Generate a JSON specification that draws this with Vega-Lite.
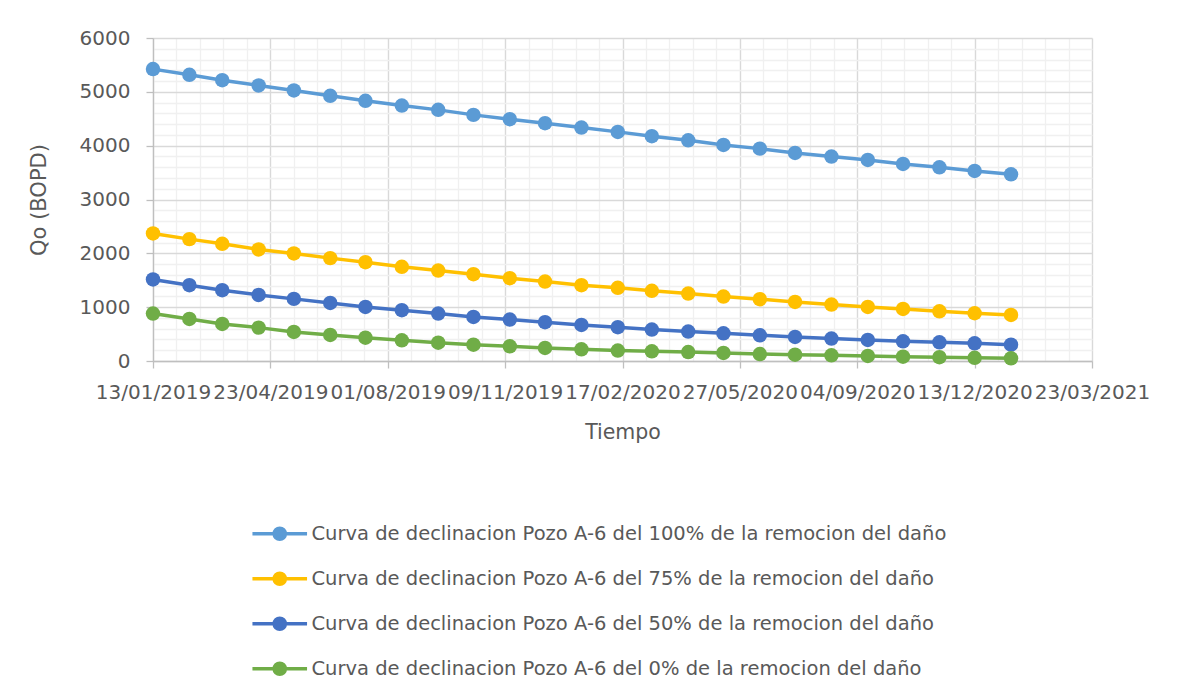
{
  "$schema": "https://vega.github.io/schema/vega-lite/v6.json",
  "width": 939,
  "height": 323,
  "autosize": {"type": "none"},
  "padding": {"left": 153, "top": 38, "right": 86, "bottom": 337},
  "background": "white",
  "config": {
    "view": {"stroke": null},
    "font": "DejaVu Sans",
    "axis": {"labelColor": "#595959", "titleColor": "#595959", "labelFont": "DejaVu Sans", "titleFont": "DejaVu Sans", "titleFontWeight": "normal"},
    "legend": {"labelColor": "#595959", "labelFont": "DejaVu Sans"}
  },
  "data": {
    "format": {"parse": {"d": "utc:'%Y-%m-%d'"}},
    "values": [
      {"d": "2019-01-13", "s": "100%", "q": 5422}, {"d": "2019-02-13", "s": "100%", "q": 5316}, {"d": "2019-03-13", "s": "100%", "q": 5217}, {"d": "2019-04-13", "s": "100%", "q": 5118}, {"d": "2019-05-13", "s": "100%", "q": 5025}, {"d": "2019-06-13", "s": "100%", "q": 4926}, {"d": "2019-07-13", "s": "100%", "q": 4833}, {"d": "2019-08-13", "s": "100%", "q": 4746}, {"d": "2019-09-13", "s": "100%", "q": 4665}, {"d": "2019-10-13", "s": "100%", "q": 4572}, {"d": "2019-11-13", "s": "100%", "q": 4491}, {"d": "2019-12-13", "s": "100%", "q": 4417}, {"d": "2020-01-13", "s": "100%", "q": 4336}, {"d": "2020-02-13", "s": "100%", "q": 4256}, {"d": "2020-03-13", "s": "100%", "q": 4175}, {"d": "2020-04-13", "s": "100%", "q": 4100}, {"d": "2020-05-13", "s": "100%", "q": 4014}, {"d": "2020-06-13", "s": "100%", "q": 3945}, {"d": "2020-07-13", "s": "100%", "q": 3865}, {"d": "2020-08-13", "s": "100%", "q": 3797}, {"d": "2020-09-13", "s": "100%", "q": 3734}, {"d": "2020-10-13", "s": "100%", "q": 3660}, {"d": "2020-11-13", "s": "100%", "q": 3598}, {"d": "2020-12-13", "s": "100%", "q": 3530}, {"d": "2021-01-13", "s": "100%", "q": 3468},
      {"d": "2019-01-13", "s": "75%", "q": 2370}, {"d": "2019-02-13", "s": "75%", "q": 2264}, {"d": "2019-03-13", "s": "75%", "q": 2177}, {"d": "2019-04-13", "s": "75%", "q": 2072}, {"d": "2019-05-13", "s": "75%", "q": 1998}, {"d": "2019-06-13", "s": "75%", "q": 1911}, {"d": "2019-07-13", "s": "75%", "q": 1836}, {"d": "2019-08-13", "s": "75%", "q": 1749}, {"d": "2019-09-13", "s": "75%", "q": 1681}, {"d": "2019-10-13", "s": "75%", "q": 1613}, {"d": "2019-11-13", "s": "75%", "q": 1538}, {"d": "2019-12-13", "s": "75%", "q": 1476}, {"d": "2020-01-13", "s": "75%", "q": 1408}, {"d": "2020-02-13", "s": "75%", "q": 1359}, {"d": "2020-03-13", "s": "75%", "q": 1303}, {"d": "2020-04-13", "s": "75%", "q": 1253}, {"d": "2020-05-13", "s": "75%", "q": 1197}, {"d": "2020-06-13", "s": "75%", "q": 1148}, {"d": "2020-07-13", "s": "75%", "q": 1098}, {"d": "2020-08-13", "s": "75%", "q": 1048}, {"d": "2020-09-13", "s": "75%", "q": 1005}, {"d": "2020-10-13", "s": "75%", "q": 968}, {"d": "2020-11-13", "s": "75%", "q": 924}, {"d": "2020-12-13", "s": "75%", "q": 887}, {"d": "2021-01-13", "s": "75%", "q": 856},
      {"d": "2019-01-13", "s": "50%", "q": 1514}, {"d": "2019-02-13", "s": "50%", "q": 1408}, {"d": "2019-03-13", "s": "50%", "q": 1315}, {"d": "2019-04-13", "s": "50%", "q": 1228}, {"d": "2019-05-13", "s": "50%", "q": 1154}, {"d": "2019-06-13", "s": "50%", "q": 1079}, {"d": "2019-07-13", "s": "50%", "q": 1005}, {"d": "2019-08-13", "s": "50%", "q": 943}, {"d": "2019-09-13", "s": "50%", "q": 881}, {"d": "2019-10-13", "s": "50%", "q": 819}, {"d": "2019-11-13", "s": "50%", "q": 769}, {"d": "2019-12-13", "s": "50%", "q": 720}, {"d": "2020-01-13", "s": "50%", "q": 670}, {"d": "2020-02-13", "s": "50%", "q": 627}, {"d": "2020-03-13", "s": "50%", "q": 583}, {"d": "2020-04-13", "s": "50%", "q": 546}, {"d": "2020-05-13", "s": "50%", "q": 515}, {"d": "2020-06-13", "s": "50%", "q": 478}, {"d": "2020-07-13", "s": "50%", "q": 447}, {"d": "2020-08-13", "s": "50%", "q": 416}, {"d": "2020-09-13", "s": "50%", "q": 391}, {"d": "2020-10-13", "s": "50%", "q": 366}, {"d": "2020-11-13", "s": "50%", "q": 347}, {"d": "2020-12-13", "s": "50%", "q": 329}, {"d": "2021-01-13", "s": "50%", "q": 304},
      {"d": "2019-01-13", "s": "0%", "q": 881}, {"d": "2019-02-13", "s": "0%", "q": 782}, {"d": "2019-03-13", "s": "0%", "q": 689}, {"d": "2019-04-13", "s": "0%", "q": 620}, {"d": "2019-05-13", "s": "0%", "q": 540}, {"d": "2019-06-13", "s": "0%", "q": 484}, {"d": "2019-07-13", "s": "0%", "q": 434}, {"d": "2019-08-13", "s": "0%", "q": 385}, {"d": "2019-09-13", "s": "0%", "q": 341}, {"d": "2019-10-13", "s": "0%", "q": 304}, {"d": "2019-11-13", "s": "0%", "q": 273}, {"d": "2019-12-13", "s": "0%", "q": 242}, {"d": "2020-01-13", "s": "0%", "q": 217}, {"d": "2020-02-13", "s": "0%", "q": 195}, {"d": "2020-03-13", "s": "0%", "q": 180}, {"d": "2020-04-13", "s": "0%", "q": 165}, {"d": "2020-05-13", "s": "0%", "q": 149}, {"d": "2020-06-13", "s": "0%", "q": 130}, {"d": "2020-07-13", "s": "0%", "q": 118}, {"d": "2020-08-13", "s": "0%", "q": 105}, {"d": "2020-09-13", "s": "0%", "q": 93}, {"d": "2020-10-13", "s": "0%", "q": 81}, {"d": "2020-11-13", "s": "0%", "q": 70}, {"d": "2020-12-13", "s": "0%", "q": 60}, {"d": "2021-01-13", "s": "0%", "q": 50}
    ]
  },
  "layer": [
    {
      "mark": {"type": "point", "opacity": 0},
      "encoding": {
        "x": {
          "field": "d", "type": "temporal",
          "scale": {"type": "utc", "domain": [1547337600000, 1616457600000], "nice": false},
          "axis": {
            "orient": "bottom", "title": null, "labels": false, "ticks": false, "domain": false,
            "grid": true, "gridColor": "#F0F0F0", "gridWidth": 1.3,
            "values": [1547337600000, 1549065600000, 1550793600000, 1552521600000, 1554249600000, 1555977600000, 1557705600000, 1559433600000, 1561161600000, 1562889600000, 1564617600000, 1566345600000, 1568073600000, 1569801600000, 1571529600000, 1573257600000, 1574985600000, 1576713600000, 1578441600000, 1580169600000, 1581897600000, 1583625600000, 1585353600000, 1587081600000, 1588809600000, 1590537600000, 1592265600000, 1593993600000, 1595721600000, 1597449600000, 1599177600000, 1600905600000, 1602633600000, 1604361600000, 1606089600000, 1607817600000, 1609545600000, 1611273600000, 1613001600000, 1614729600000, 1616457600000]
          }
        },
        "y": {
          "field": "q", "type": "quantitative",
          "scale": {"domain": [0, 6000], "nice": false},
          "axis": {
            "orient": "left", "title": null, "labels": false, "ticks": false, "domain": false,
            "grid": true, "gridColor": "#F0F0F0", "gridWidth": 1.3,
            "values": [200, 400, 600, 800, 1200, 1400, 1600, 1800, 2200, 2400, 2600, 2800, 3200, 3400, 3600, 3800, 4200, 4400, 4600, 4800, 5200, 5400, 5600, 5800]
          }
        }
      }
    },
    {
      "mark": {"type": "line", "strokeWidth": 3.5, "point": {"filled": true, "size": 210, "opacity": 1}},
      "encoding": {
        "x": {
          "field": "d", "type": "temporal",
          "axis": {
            "orient": "bottom", "title": "Tiempo", "titleFontSize": 20.5, "titlePadding": 20,
            "labelExpr": "utcFormat(datum.value, '%d/%m/%Y')",
            "labelFontSize": 20, "labelOverlap": false, "labelFlush": false, "labelBound": false, "labelPadding": 14,
            "grid": true, "gridColor": "#D9D9D9", "gridWidth": 1.3,
            "domainColor": "#BFBFBF", "domainWidth": 1.3,
            "ticks": true, "tickColor": "#BFBFBF", "tickSize": 7, "tickWidth": 1.3,
            "values": [1547337600000, 1555977600000, 1564617600000, 1573257600000, 1581897600000, 1590537600000, 1599177600000, 1607817600000, 1616457600000]
          }
        },
        "y": {
          "field": "q", "type": "quantitative",
          "axis": {
            "orient": "left", "title": "Qo (BOPD)", "titleFontSize": 21, "titlePadding": 30,
            "format": "d",
            "labelFontSize": 20, "labelPadding": 16,
            "grid": true, "gridColor": "#D9D9D9", "gridWidth": 1.3,
            "domain": true, "domainColor": "#BFBFBF", "domainWidth": 1.3,
            "ticks": true, "tickColor": "#BFBFBF", "tickSize": 7, "tickWidth": 1.3,
            "values": [0, 1000, 2000, 3000, 4000, 5000, 6000]
          }
        },
        "color": {
          "field": "s", "type": "nominal",
          "scale": {"domain": ["100%", "75%", "50%", "0%"], "range": ["#5B9BD5", "#FFC000", "#4472C4", "#70AD47"]},
          "legend": {
            "title": null, "orient": "none", "direction": "vertical",
            "legendX": 117, "legendY": 486,
            "labelExpr": "'Curva de declinacion Pozo A-6 del ' + datum.label + ' de la remocion del daño'",
            "labelFontSize": 19.5, "labelOffset": 22, "labelLimit": 900,
            "rowPadding": 19,
            "symbolType": "M-3.9,0H3.9M0.8,0A0.8,0.8,0,1,1,-0.8,0A0.8,0.8,0,1,1,0.8,0",
            "symbolSize": 196, "symbolStrokeWidth": 3.5,
            "encode": {"symbols": {"update": {"fill": {"scale": "color", "field": "value"}, "stroke": {"scale": "color", "field": "value"}, "opacity": {"value": 1}}}}
          }
        }
      }
    }
  ],
  "resolve": {"axis": {"x": "independent", "y": "independent"}}
}
